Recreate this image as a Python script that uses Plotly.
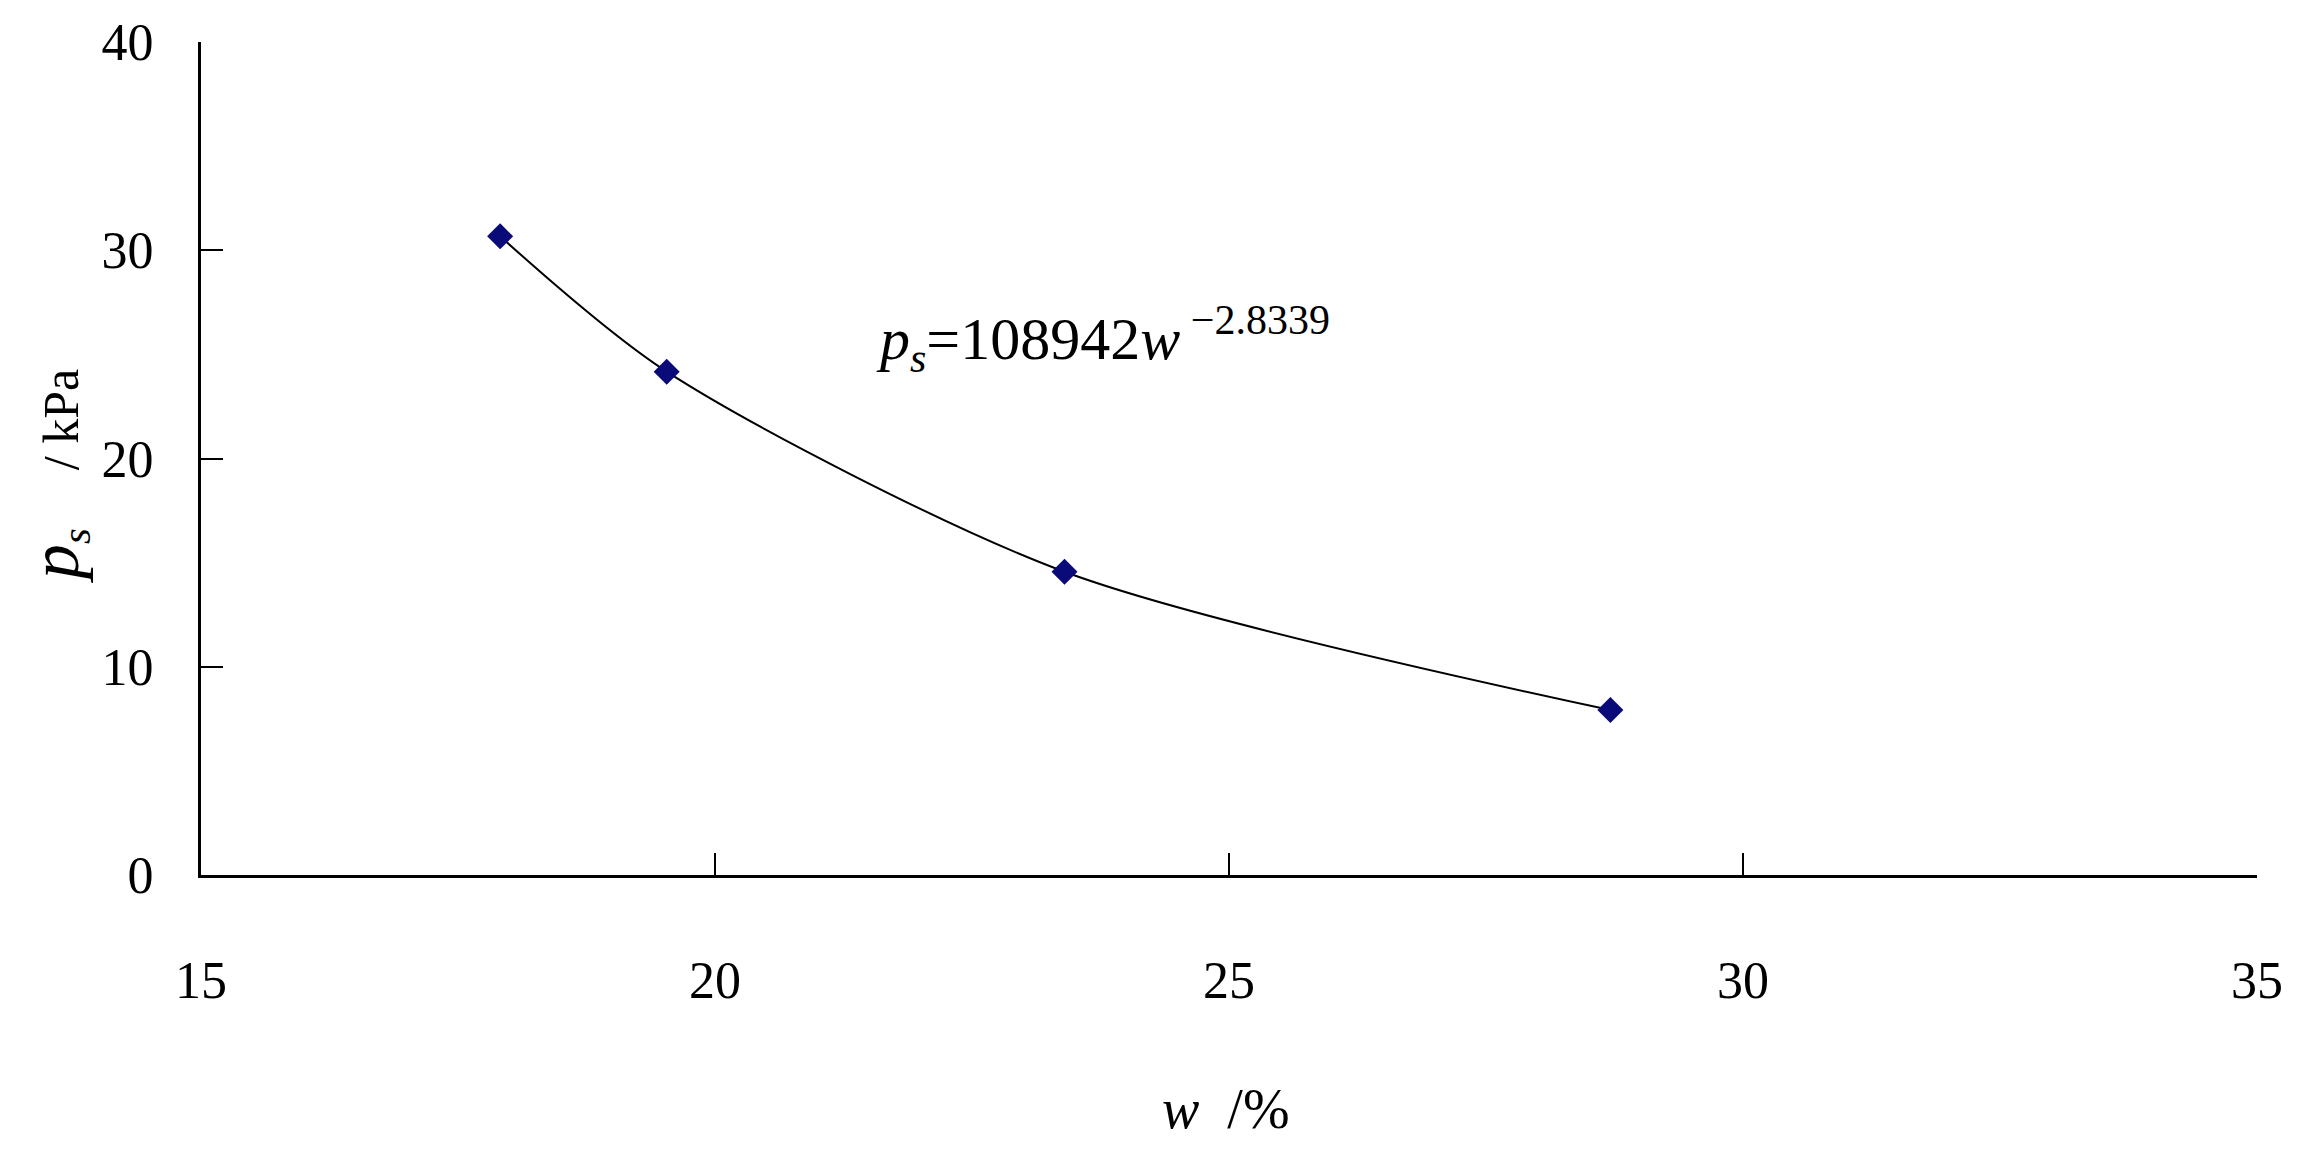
import plotly.graph_objects as go

# Data
w_values = [17.91, 19.53, 23.40, 28.71]
ps_values = [30.67, 24.17, 14.56, 7.92]

x_ticks = [15, 20, 25, 30, 35]
y_ticks = [0, 10, 20, 30, 40]

FONT = "Liberation Serif, Times New Roman, serif"

fig = go.Figure()
fig.add_trace(go.Scatter(
    x=w_values, y=ps_values,
    mode="lines+markers",
    line=dict(color="black", width=2, shape="spline", smoothing=0.8),
    marker=dict(symbol="diamond", size=20, color="#0a0a78"),
    showlegend=False,
))

# page body has an 8px margin, so the figure is sized to fit inside it
fig.update_layout(
    template="none",
    width=2287, height=1142,
    margin=dict(l=193, r=38, t=34, b=275),
    paper_bgcolor="white", plot_bgcolor="white",
    font=dict(family=FONT, color="black", size=52),
)

fig.update_xaxes(
    range=[15, 35], tickvals=x_ticks, ticktext=[str(v) for v in x_ticks],
    showgrid=False, zeroline=False, automargin=False,
    showline=True, linecolor="black", linewidth=3,
    ticks="inside", ticklen=22, tickwidth=2, tickcolor="black",
    ticklabelstandoff=58,
    tickfont=dict(family=FONT, size=52, color="black"),
)
fig.update_yaxes(
    range=[0, 40], tickvals=y_ticks, ticktext=[str(v) for v in y_ticks],
    showgrid=False, zeroline=False, automargin=False,
    showline=True, linecolor="black", linewidth=3,
    ticks="inside", ticklen=22, tickwidth=2, tickcolor="black",
    ticklabelstandoff=34,
    tickfont=dict(family=FONT, size=52, color="black"),
)

# Axis titles
fig.add_annotation(
    xref="paper", yref="paper", x=(1226 - 201) / (2257 - 201), y=-(1112 - 877) / (877 - 42),
    text="<i>w</i>  /%", showarrow=False, xanchor="center", yanchor="middle",
    font=dict(family=FONT, size=56, color="black"),
)
fig.add_annotation(
    xref="paper", yref="paper", x=-(201 - 58) / (2257 - 201), y=(877 - 478) / (877 - 42),
    text="<i><span style='font-size:70px'>p</span><sub>s</sub></i>    <span style='font-size:50px'>/ kPa</span>",
    textangle=-90, showarrow=False, xanchor="center", yanchor="middle",
    font=dict(family=FONT, size=58, color="black"),
)

# Equation annotation
fig.add_annotation(
    xref="paper", yref="paper", x=(874 - 201) / (2257 - 201), y=(877 - 340) / (877 - 42),
    text="<i>p<sub>s</sub></i>=108942<i>w</i><sup> −2.8339</sup>",
    showarrow=False, xanchor="left", yanchor="middle",
    font=dict(family=FONT, size=60, color="black"),
)

fig.write_html("out.html")
